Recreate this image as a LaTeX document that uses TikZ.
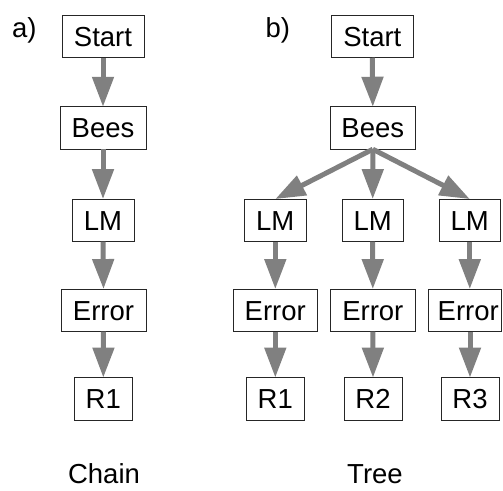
\documentclass[tikz,border=0pt]{standalone}
\usepackage{fontspec}
\setmainfont{Liberation Sans}
\usetikzlibrary{arrows.meta}
\begin{document}
\begin{tikzpicture}[x=1pt,y=1pt,
  box/.style={draw=black!85, line width=0.9pt, fill=white, inner xsep=0pt, inner ysep=0pt,
    minimum height=42.5pt, text height=19.7pt, text depth=0pt, outer sep=0pt,
    font=\fontsize{27.5pt}{30pt}\selectfont},
  lbl/.style={inner sep=0pt, anchor=base, font=\fontsize{27.5pt}{30pt}\selectfont},
  arr/.style={draw=black!50, line width=5pt, -{Triangle[length=30pt, width=21pt]}}]
\useasboundingbox (0,0) rectangle (503,-490);
% labels
\node[lbl, anchor=base west] (la) at (12,-37) {a)};
\node[lbl, anchor=base west] (lb) at (265.5,-37) {b)};
\node[lbl] (lc) at (104,-483.5) {Chain};
\node[lbl] (lt) at (375,-483.5) {Tree};
% chain
\node[box, minimum width=82pt] (s1) at (103,-36.5) {Start};
\node[box, minimum width=86pt] (b1) at (103,-128) {Bees};
\node[box, minimum width=62pt] (m1) at (103,-220.3) {LM};
\node[box, minimum width=85pt] (e1) at (103.5,-310.3) {Error};
\node[box, minimum width=58.7pt] (r1) at (103.3,-398.8) {R1};
\draw[arr] (s1.south) -- (b1.north);
\draw[arr] (b1.south) -- (m1.north);
\draw[arr] (m1.south) -- (e1.north);
\draw[arr] (e1.south) -- (r1.north);
% tree
\node[box, minimum width=81.3pt] (s2) at (372.3,-36.5) {Start};
\node[box, minimum width=85.7pt] (b2) at (372.8,-128) {Bees};
\node[box, minimum width=61.3pt] (ma) at (275.3,-220.3) {LM};
\node[box, minimum width=61.3pt] (mb) at (372.7,-220.3) {LM};
\node[box, minimum width=61.7pt] (mc) at (469.8,-220.3) {LM};
\node[box, minimum width=84.7pt] (ea) at (275.3,-310.3) {Error};
\node[box, minimum width=84.3pt] (eb) at (372.8,-310.3) {Error};
\node[box, minimum width=72.6pt] (ec) at (465,-310.3) {\makebox[72.6pt][r]{Error\hspace{2.5pt}}};
\node[box, minimum width=57.3pt] (ra) at (275.3,-398.8) {R1};
\node[box, minimum width=58pt] (rb) at (373,-398.8) {R2};
\node[box, minimum width=58pt] (rc) at (470,-398.8) {R3};
\draw[arr] (s2.south) -- (b2.north);
\draw[arr] (b2.south) -- (ma.north);
\draw[arr] (b2.south) -- (mb.north);
\draw[arr] (b2.south) -- (mc.north);
\draw[arr] (ma.south) -- (ea.north);
\draw[arr] (mb.south) -- (eb.north);
\draw[arr] (mc.south) -- (ec.north -| mc.south);
\draw[arr] (ea.south) -- (ra.north);
\draw[arr] (eb.south) -- (rb.north);
\draw[arr] (ec.south -| rc.north) -- (rc.north);
\end{tikzpicture}
\end{document}
